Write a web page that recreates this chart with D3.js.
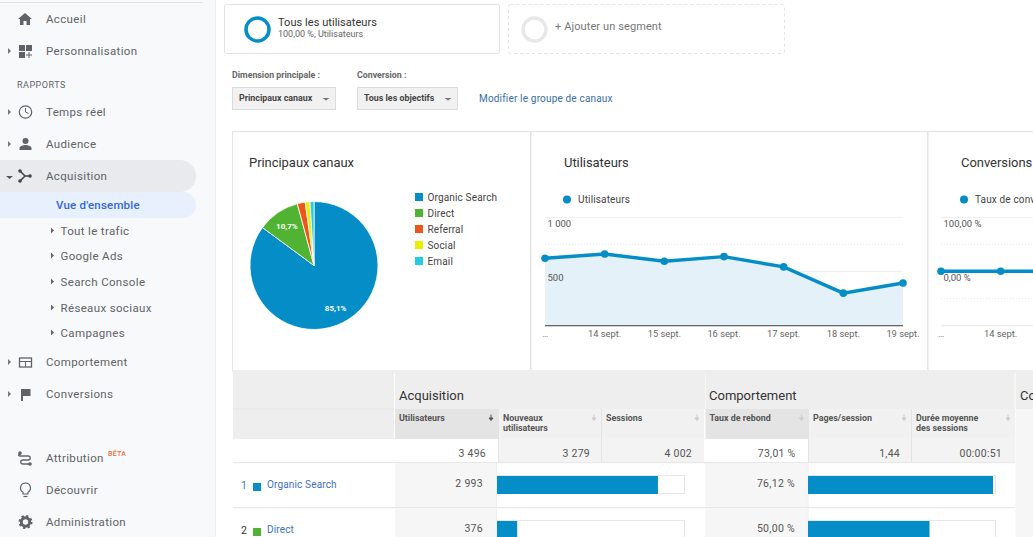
<!DOCTYPE html>
<html lang="fr"><head><meta charset="utf-8">
<style>html,body{margin:0;padding:0;background:#fff;overflow:hidden}svg{display:block}text{font-family:Roboto,sans-serif}</style>
<script src="https://cdn.jsdelivr.net/npm/d3@7"></script></head><body>
<script>
// ---- data ----
const channels = ["Organic Search","Direct","Referral","Social","Email"];
const channelShares = [85.1,10.7,2.0,1.2,1.0];
const channelColors = ["#058dc7","#50b432","#ed561b","#edef00","#24cbe5"];
const dates = ["…","14 sept.","15 sept.","16 sept.","17 sept.","18 sept.","19 sept."];
const users = [620,659,592,635,540,298,392];
const conversionRate = [0,0,0,0,0,0,0];
const userTicks = [0,500,1000];
const conversionTicks = [0,100];
const tableRanks = ["1","2"];
const tableChannels = ["Organic Search","Direct"];
const tableUsers = [2993,376];
const tableBounce = [76.12,50.00];
const totalUsers = 3496;
const headerCols = ["Utilisateurs","Nouveaux|utilisateurs","Sessions","Taux de rebond","Pages/session","Durée moyenne|des sessions"];
const totalCols = ["3 496","3 279","4 002","73,01 %","1,44","00:00:51"];
const navMain = ["Accueil","Personnalisation","Temps réel","Audience","Acquisition","Comportement","Conversions","Attribution","Découvrir","Administration"];
const navSub = ["Tout le trafic","Google Ads","Search Console","Réseaux sociaux","Campagnes"];

// ---- helpers ----
const svg = d3.select("body").append("svg").attr("width",1033).attr("height",537);
function T(x,y,s,o={}){return svg.append("text").attr("x",x).attr("y",y).text(s)
 .attr("font-size",o.size||11).attr("fill",o.fill||"#555").attr("font-weight",o.weight||400)
 .attr("text-anchor",o.anchor||"start").attr("letter-spacing",o.ls==null?0:o.ls);}
function R(x,y,w,h,fill,stroke,o={}){return svg.append("rect").attr("x",x).attr("y",y).attr("width",w).attr("height",h)
 .attr("fill",fill||"none").attr("stroke",stroke||"none").attr("rx",o.rx||0).attr("stroke-dasharray",o.dash||null);}
function P(d,fill,stroke,sw){return svg.append("path").attr("d",d).attr("fill",fill||"none").attr("stroke",stroke||"none").attr("stroke-width",sw||1);}

// ---- sidebar ----
R(0,0,215,537,"#f8f9fa");
R(215,0,1,537,"#eeeeee");
R(0,2,203,1,"#e3e3e3");
P("M0 160H180a16 16 0 0 1 0 32H0Z","#e8eaed");
P("M0 192H183a13 13 0 0 1 0 26H0Z","#e8f0fe");
const navY=[23,55,116,148,180,366,398,462,494,526];
const navColor="#5f6368";
navMain.forEach((s,i)=>T(46,navY[i],s,{size:11.5,fill:navColor,ls:0.35}));
T(17,88,"RAPPORTS",{size:9,fill:"#5f6368",ls:0.5});
T(56,209,"Vue d'ensemble",{size:11.5,fill:"#3367d6",ls:0.2,weight:500});
const subY=[235,260,286,312,337];
navSub.forEach((s,i)=>{T(60.5,subY[i],s,{size:11.5,fill:navColor,ls:0.35});P(`M51 ${subY[i]-7.5}l3 3l-3 3Z`,"#666");});
[51,112,144,362,394].forEach(c=>P(`M8 ${c-3}l3 3l-3 3Z`,"#777"));
P("M6 176l7 0l-3.5 3Z","#555");
// icons
P("M25 13l-7 6h2v6h3.5v-4h3v4H30v-6h2Z",navColor);
R(19,45,6,6,navColor);R(26,45,6,6,navColor);R(19,52,6,6,navColor);P("M26 55h6M29 52v6",null,navColor,1);
svg.append("circle").attr("cx",25.5).attr("cy",112).attr("r",6.2).attr("fill","none").attr("stroke",navColor).attr("stroke-width",1.2);
P("M25.5 108v4l3 1.5",null,navColor,1);
svg.append("circle").attr("cx",25.5).attr("cy",141).attr("r",3).attr("fill",navColor);
P("M19.5 150v-2c0-2 4-3 6-3s6 1 6 3v2Z",navColor);
P("M20 171l5 5h6M20 181l5-5",null,"#444",1.6);
[[20,171],[20,181],[30,176]].forEach(c=>svg.append("circle").attr("cx",c[0]).attr("cy",c[1]).attr("r",1.8).attr("fill","#444"));
R(19.5,358,12,9,"none",navColor).attr("stroke-width",1.3);P("M19.5 361.5h12M25.5 361.5v5",null,navColor,1);
P("M21 389h9.5v7h-7.5v5h-2Z",navColor);
P("M21 454c-3 0 -3 2 -1 2h8c3 0 3 4 0 4h-5c-3 0 -3 4 0 4h7",null,navColor,1.3);
svg.append("circle").attr("cx",20).attr("cy",453).attr("r",1.8).attr("fill",navColor);
svg.append("circle").attr("cx",30).attr("cy",464).attr("r",1.8).attr("fill",navColor);
T(108,456,"BÊTA",{size:7,fill:"#e8703a",weight:500,ls:0.3});
P("M25.5 483a5 5 0 0 0 -2.5 9.3v1.7h5v-1.7a5 5 0 0 0 -2.5 -9.3Z",null,navColor,1.2);P("M23.5 496.5h4",null,navColor,1.2);
svg.append("circle").attr("cx",25.5).attr("cy",522).attr("r",4.2).attr("fill","none").attr("stroke",navColor).attr("stroke-width",3);
svg.append("circle").attr("cx",25.5).attr("cy",522).attr("r",6).attr("fill","none").attr("stroke",navColor).attr("stroke-width",2).attr("stroke-dasharray","2.3 2.4");

// ---- segment boxes ----
R(224.5,4.5,275,49,"#fff","#e3e3e3",{rx:2});
svg.append("circle").attr("cx",257.5).attr("cy",29.5).attr("r",11.5).attr("fill","none").attr("stroke","#058dc7").attr("stroke-width",3.5);
T(278,26,"Tous les utilisateurs",{size:11,fill:"#333",ls:0.05});
T(278,37,"100,00 %, Utilisateurs",{size:9,fill:"#666"});
R(508.5,4.5,276,49,"#fff","#e3e3e3",{rx:2,dash:"3 3"});
svg.append("circle").attr("cx",534.5).attr("cy",29.5).attr("r",11.5).attr("fill","none").attr("stroke","#e8e8e8").attr("stroke-width",3.5);
T(555,30,"+ Ajouter un segment",{size:11,fill:"#777",ls:0.1});

// ---- dropdowns ----
T(232,78,"Dimension principale :",{size:8.8,weight:700,fill:"#666"});
T(357,78,"Conversion :",{size:8.8,weight:700,fill:"#666"});
[[232.5,103,"Principaux canaux",239,326],[357.5,100,"Tous les objectifs",364,448]].forEach(d=>{
 R(d[0],87.5,d[1],22,"#f1f1f1","#dcdcdc");
 T(d[3],101,d[2],{size:8.9,weight:700,fill:"#444"});
 P(`M${d[4]-3.5} 98h7l-3.5 2.5Z`,"#777");
});
T(479,102,"Modifier le groupe de canaux",{size:10,fill:"#3a6ea5",ls:0.17});

// ---- chart panels ----
R(232.5,131.5,900,239,"#fff","#e4e4e4");
R(530,131,1.5,239,"#e4e4e4");
R(927,131,1.5,239,"#e4e4e4");
T(249,167,"Principaux canaux",{size:13,fill:"#333",ls:-0.05});
T(564,167,"Utilisateurs",{size:13,fill:"#333",ls:-0.05});
T(961,167,"Conversions",{size:13,fill:"#333",ls:-0.05});

// pie
const pieG = svg.append("g").attr("transform","translate(314,265.5)");
const arcs = d3.pie().sort(null)(channelShares);
const arc = d3.arc().innerRadius(0).outerRadius(64);
pieG.selectAll("path").data(arcs).join("path").attr("d",arc)
 .attr("fill",(d,i)=>channelColors[i]).attr("stroke","#fff").attr("stroke-width",0.8);
const fmtPct=v=>d3.format(".1f")(v).replace(".",",")+"%";
const labelArc=d3.arc().innerRadius(48).outerRadius(48);
pieG.selectAll("text").data(arcs.slice(0,2)).join("text")
 .attr("transform",d=>`translate(${labelArc.centroid(d)})`)
 .attr("text-anchor","middle").attr("dy","0.35em").attr("font-size",8).attr("font-weight",700).attr("fill","#fff")
 .text(d=>fmtPct(d.value));
const legend = svg.append("g").selectAll("g").data(channels).join("g")
 .attr("transform",(d,i)=>`translate(415,${193+i*16})`);
legend.append("rect").attr("width",8).attr("height",8).attr("fill",(d,i)=>channelColors[i]);
legend.append("text").attr("x",12.5).attr("y",8).attr("font-size",10).attr("letter-spacing",0.15).attr("fill","#444").text(d=>d);

// line charts
function lineChart(x0,x1,values,domain,ticks,tickFmt,legendLabel,legendX,baseColor,area){
 const y=d3.scaleLinear().domain(domain).range([325.5,217]);
 const x=d3.scalePoint().domain(d3.range(values.length)).range([x0,x1]);
 [217,244,271,298].forEach((g,i)=>{
  R(x0,g,x1-x0,1,i%2?"none":"#f0f0f0");
  if(i%2) svg.append("line").attr("x1",x0).attr("x2",x1).attr("y1",g+.5).attr("y2",g+.5).attr("stroke","#eaeaea").attr("stroke-dasharray","1 2");
 });
 if(area) svg.append("path").datum(values).attr("fill","#e4f1f8")
  .attr("d",d3.area().x((d,i)=>x(i)).y0(y(domain[0])).y1(d=>y(d)));
 R(x0,325,x1-x0,1.3,baseColor);
 svg.append("path").datum(values).attr("fill","none").attr("stroke","#058dc7").attr("stroke-width",3.4)
  .attr("d",d3.line().x((d,i)=>x(i)).y(d=>y(d)));
 svg.append("g").selectAll("circle").data(values).join("circle")
  .attr("cx",(d,i)=>x(i)).attr("cy",d=>y(d)).attr("r",3.8).attr("fill","#058dc7");
 ticks.forEach(t=>{ if(t===domain[0]) return;
  T(x0+2.5,y(t)+10,tickFmt(t),{size:9.5,fill:"#555"});});
 dates.forEach((s,i)=>{ if(x(i)+20<1033) T(x(i),336.5,s,{size:9.3,fill:"#666",anchor:"middle"}); });
 svg.append("circle").attr("cx",legendX).attr("cy",199.5).attr("r",4).attr("fill","#058dc7");
 T(legendX+11,203,legendLabel,{size:10,fill:"#444",ls:0.15});
}
lineChart(545,903,users,[0,1000],userTicks,d=>d3.format(",")(d).replace(","," "),"Utilisateurs",567,"#666",true);
lineChart(941,1299,conversionRate,[-100,100],conversionTicks,d=>d3.format(".2f")(d).replace(".",",")+" %","Taux de conversion",964,"#eeeeee",false);

// ---- table ----
R(232,370,801,3,"#eeeeee");
R(233,373,161,66,"#eeeeee");
R(233,408.5,161,1,"#e6e6e6");
R(395,373,310,36,"#eeeeee");
R(705.5,373,309,36,"#eeeeee");
R(1015.5,373,18,36,"#eeeeee");
R(1015.5,409,18,128,"#f6f6f6");
T(399,400,"Acquisition",{size:13,fill:"#333",ls:0});
T(709,400,"Comportement",{size:13,fill:"#333",ls:0});
T(1020,400,"Comportement".slice(0,2),{size:13,fill:"#333"});
const colX=[395,499,602,705.5,809,912], colW=[103,102,102,103,102,103];
const totalInset=[12,11,12,13,11,13];
headerCols.forEach((h,i)=>{
 const active=i===0||i===3;
 R(colX[i],409,colW[i],30,active?"#e4e4e4":"#f1f1f1");
 h.split("|").forEach((l,k)=>T(colX[i]+4,421+k*10,l,{size:8.9,weight:700,fill:"#555"}));
 const ax=colX[i]+colW[i]-7;
 P(`M${ax} 414.5v4M${ax-2} 418l2 2.5l2-2.5Z`,active&&i===0?"#555":"#ccc",active&&i===0?"#555":"#ccc",1);
 R(colX[i],439,colW[i],23,active?"#fff":"#f3f3f3");
 T(colX[i]+colW[i]-totalInset[i],457,totalCols[i],{size:10.5,fill:"#555",anchor:"end",ls:0.25});
});
[498,601,808,911].forEach(x=>R(x,409,1,53,"#e4e4e4"));
R(233,462,782,1.2,"#e8e8e8");
R(233,507,782,1.2,"#e8e8e8");
const rowY=[463,508], rowH=[44,29];
const usersBar=d3.scaleLinear().domain([0,totalUsers]).range([0,188]);
const bounceBar=d3.scaleLinear().domain([0,tableBounce[0]]).range([0,185]);
const fmtInt=d=>d3.format(",")(d).replace(","," ");
tableChannels.forEach((c,i)=>{
 const y=rowY[i], h=rowH[i];
 R(395,y,101,h,"#f6f6f6");
 R(705.5,y,102,h,"#f6f6f6");
 R(496,y,1,h,"#eeeeee");R(807.5,y,1,h,"#eeeeee");
 T(241,y+25.5,tableRanks[i],{size:10.5,fill:i?"#333":"#4a7db0"});
 R(253,y+20,8,8,channelColors[i]);
 T(267,y+25,c,{size:10,fill:"#3e6fc4",ls:0.15});
 T(483,y+24,fmtInt(tableUsers[i]),{size:10.5,fill:"#555",anchor:"end",ls:0.3});
 T(795,y+24,d3.format(".2f")(tableBounce[i]).replace(".",",")+" %",{size:10.5,fill:"#555",anchor:"end",ls:0.3});
 R(497.5,y+12.5,187,18,"#fff","#e6e6e6");
 R(497,y+13,usersBar(tableUsers[i]),18,"#058dc7");
 R(808.5,y+12.5,187,18,"#fff","#e6e6e6");
 R(808,y+13,bounceBar(tableBounce[i]),18,"#058dc7");
});
</script></body></html>
